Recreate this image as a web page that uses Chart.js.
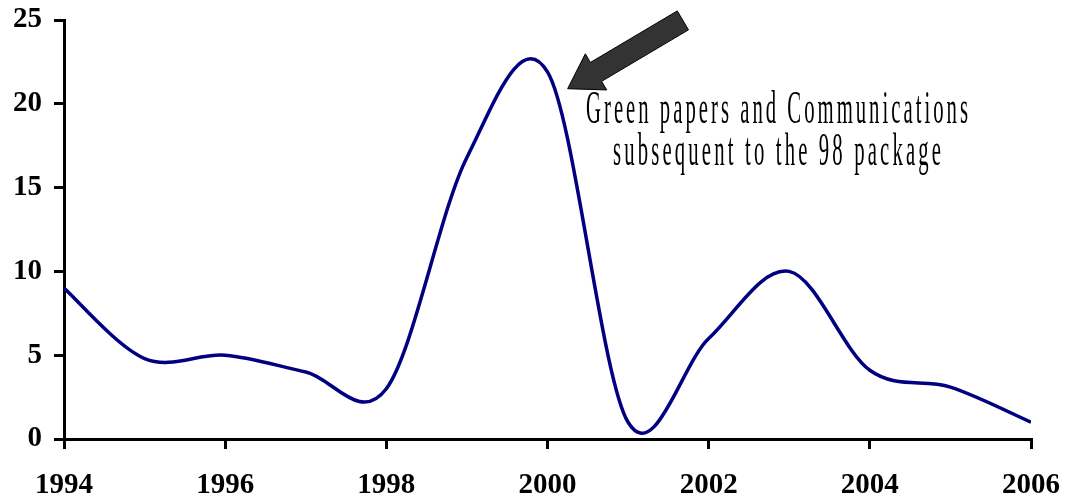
<!DOCTYPE html>
<html>
<head>
<meta charset="utf-8">
<script src="https://cdn.jsdelivr.net/npm/chart.js@4/dist/chart.umd.min.js"></script>
<style>
  html, body { margin: 0; padding: 0; background: #fff; }
  #wrap { width: 1066px; height: 501px; position: relative; }
</style>
</head>
<body>
<div id="wrap"><canvas id="c" width="1066" height="501"></canvas></div>
<script>
// Yearly count of documents
const years  = [1994, 1995, 1996, 1997, 1998, 1999, 2000, 2001, 2002, 2003, 2004, 2005, 2006];
const counts = [9.0, 4.8, 5.0, 4.0, 3.0, 16.8, 21.9, 1.0, 6.0, 10.0, 4.1, 3.1, 1.0];
const yTicks = [0, 5, 10, 15, 20, 25];
const xTicks = [1994, 1996, 1998, 2000, 2002, 2004, 2006];
const noteLines = ['Green papers and Communications', 'subsequent to the 98 package'];

const points = years.map((y, i) => ({ x: y, y: counts[i] }));

// Smooth the line with a uniform Catmull-Rom spline (control points at 1/6 of neighbour span)
const smoothPlugin = {
  id: 'smooth',
  beforeDatasetsDraw(chart) {
    chart.getSortedVisibleDatasetMetas().forEach(meta => {
      const line = meta.dataset;
      line.updateControlPoints(chart.chartArea, 'x');
      const pts = meta.data;
      for (let i = 0; i < pts.length; i++) {
        const prev = pts[Math.max(0, i - 1)], cur = pts[i], next = pts[Math.min(pts.length - 1, i + 1)];
        const dx = (next.x - prev.x) / 6, dy = (next.y - prev.y) / 6;
        cur.cp1x = cur.x - dx; cur.cp1y = cur.y - dy;
        cur.cp2x = cur.x + dx; cur.cp2y = cur.y + dy;
      }
    });
  }
};

// Arrow and caption pointing at the 2000 peak
const notePlugin = {
  id: 'note',
  afterDatasetsDraw(chart) {
    const { ctx, scales: { x, y } } = chart;
    const tipX = x.getPixelForValue(2000.25);
    const tipY = y.getPixelForValue(20.9);
    const ux = 0.86, uy = -0.51;      // shaft direction
    const px = 0.51, py = 0.86;       // perpendicular
    const headLen = 33, headHalf = 21, shaftHalf = 11, len = 134;
    const bx = tipX + ux * headLen, by = tipY + uy * headLen;
    const ex = tipX + ux * len, ey = tipY + uy * len;
    ctx.save();
    ctx.beginPath();
    ctx.moveTo(tipX, tipY);
    ctx.lineTo(bx - px * headHalf, by - py * headHalf);
    ctx.lineTo(bx - px * shaftHalf, by - py * shaftHalf);
    ctx.lineTo(ex - px * shaftHalf, ey - py * shaftHalf);
    ctx.lineTo(ex + px * shaftHalf, ey + py * shaftHalf);
    ctx.lineTo(bx + px * shaftHalf, by + py * shaftHalf);
    ctx.lineTo(bx + px * headHalf, by + py * headHalf);
    ctx.closePath();
    ctx.fillStyle = '#333333';
    ctx.fill();
    ctx.lineWidth = 1;
    ctx.strokeStyle = '#000';
    ctx.stroke();

    // condensed, letter-spaced caption
    const cx = 777;
    const baselines = [123, 165];
    const widths = [382, 328];
    ctx.font = '46px "Liberation Serif", "Times New Roman", serif';
    ctx.fillStyle = '#000';
    ctx.textBaseline = 'alphabetic';
    const sx = 0.45;
    noteLines.forEach((line, i) => {
      const chars = [...line];
      const natural = chars.map(ch => ctx.measureText(ch).width);
      const total = natural.reduce((a, b) => a + b, 0) * sx;
      const gap = (widths[i] - total) / (chars.length - 1);
      let cur = cx - widths[i] / 2;
      chars.forEach((ch, k) => {
        ctx.save();
        ctx.translate(cur, baselines[i]);
        ctx.scale(sx, 1);
        ctx.fillText(ch, 0, 0);
        ctx.restore();
        cur += natural[k] * sx + gap;
      });
    });
    ctx.restore();
  }
};

const tickFont = { family: '"Liberation Serif", "Times New Roman", serif', size: 29, weight: 'bold' };

new Chart(document.getElementById('c'), {
  type: 'line',
  data: {
    datasets: [{
      data: points,
      borderColor: '#000080',
      borderWidth: 3.5,
      pointRadius: 0,
      tension: 0.4,
      fill: false
    }]
  },
  options: {
    responsive: false,
    animation: false,
    events: [],
    layout: { padding: { left: 0, right: 35, top: 20, bottom: 0 } },
    plugins: { legend: { display: false }, tooltip: { enabled: false } },
    scales: {
      x: {
        type: 'linear',
        min: 1994, max: 2006,
        afterBuildTicks(scale) { scale.ticks = xTicks.map(v => ({ value: v })); },
        afterFit(scale) { scale.height = 62; scale.paddingLeft = 0; scale.paddingRight = 0; },
        ticks: { font: tickFont, color: '#000', padding: 19, maxRotation: 0, autoSkip: false,
                 callback: v => String(v) },
        grid: { display: true, drawOnChartArea: false, drawTicks: true, tickLength: 10, color: '#000', lineWidth: 3 },
        border: { display: true, color: '#000', width: 3 }
      },
      y: {
        min: 0, max: 25,
        afterBuildTicks(scale) { scale.ticks = yTicks.map(v => ({ value: v })); },
        afterFit(scale) { scale.width = 64; scale.paddingTop = 0; scale.paddingBottom = 0; },
        ticks: { font: tickFont, color: '#000', padding: 12 },
        grid: { display: true, drawOnChartArea: false, drawTicks: true, tickLength: 10, color: '#000', lineWidth: 3 },
        border: { display: true, color: '#000', width: 3 }
      }
    }
  },
  plugins: [smoothPlugin, notePlugin]
});
</script>
</body>
</html>
